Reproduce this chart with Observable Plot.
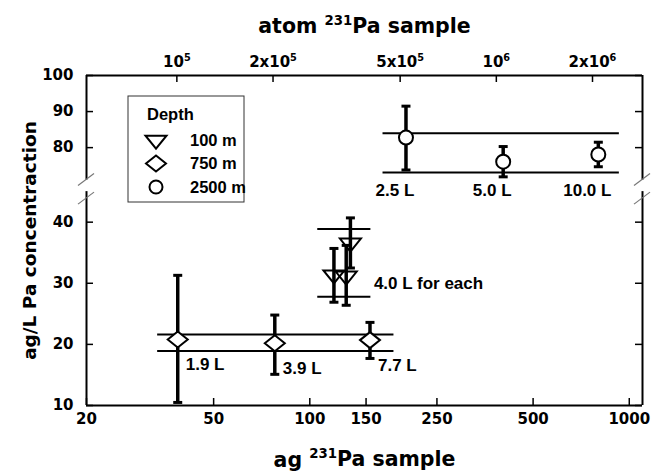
<!DOCTYPE html>
<html>
<head>
<meta charset="utf-8">
<script src="https://cdn.jsdelivr.net/npm/d3@7"></script>
<script src="https://cdn.jsdelivr.net/npm/@observablehq/plot@0.6"></script>
<style>
  body { margin: 0; background: #fff; }
  #chart svg { display: block; }
</style>
</head>
<body>
<div id="chart"></div>
<script>
// ---------------- data ----------------
const depths = ["100 m", "750 m", "2500 m"];
const legendTitle = "Depth";

// 100 m (triangles)
const agSample100 = [134, 119, 130];
const conc100     = [36.6, 31.4, 31.2];
const errLo100    = [32.5, 26.9, 26.4];
const errHi100    = [40.7, 35.7, 36.2];
const label100    = "4.0 L for each";

// 750 m (diamonds)
const agSample750 = [38.6, 77.7, 154.3];
const conc750     = [20.8, 20.2, 20.7];
const errLo750    = [10.5, 15.1, 17.7];
const errHi750    = [31.3, 24.8, 23.6];
const labels750   = ["1.9 L", "3.9 L", "7.7 L"];

// 2500 m (circles)
const agSample2500 = [200, 403, 800];
const conc2500     = [82.8, 76.1, 78.1];
const errLo2500    = [73.8, 71.9, 74.7];
const errHi2500    = [91.5, 80.3, 81.5];
const labels2500   = ["2.5 L", "5.0 L", "10.0 L"];

// horizontal band lines per depth
const bandDepth = ["100 m", "100 m", "750 m", "750 m", "2500 m", "2500 m"];
const bandY     = [38.9, 27.8, 21.6, 18.9, 84.0, 73.1];
const bandX1    = [105.9, 105.9, 33.4, 33.4, 169.5, 169.5];
const bandX2    = [155.3, 155.3, 183.4, 183.4, 931, 931];

// axes
const xDomain = [20, 1100];
const xTicks = [20, 50, 100, 150, 250, 500, 1000];
const atomTicks = [1e5, 2e5, 5e5, 1e6, 2e6];
const atomTickLabels = ["10^5", "2x10^5", "5x10^5", "10^6", "2x10^6"];
const yTicks = [10, 20, 30, 40, 80, 90, 100];
const lowerDomain = [10, 45];
const upperDomain = [71, 100];
const xTitle = "ag ^231Pa sample";
const xTopTitle = "atom ^231Pa sample";
const yTitle = "ag/L Pa concentraction";

// ---------------- helpers ----------------
const ATOMS_PER_AG = 6.02214e23 / 231 * 1e-18;
// broken y axis: two linear pieces with a gap
const lowerSpan = 213.5, gapSpan = 11.5, upperSpan = 104.4;
function brk(v) {
  return v <= lowerDomain[1]
    ? (v - lowerDomain[0]) / (lowerDomain[1] - lowerDomain[0]) * lowerSpan
    : lowerSpan + gapSpan + (v - upperDomain[0]) / (upperDomain[1] - upperDomain[0]) * upperSpan;
}
const yTotal = lowerSpan + gapSpan + upperSpan;

const triDown = { draw(ctx, size) { const r = Math.sqrt(size / Math.PI); const w = 1.05 * r, h = 1.3 * r;
  ctx.moveTo(-w, -h / 3); ctx.lineTo(w, -h / 3); ctx.lineTo(0, 2 * h / 3); ctx.closePath(); } };
const diamond = { draw(ctx, size) { const r = Math.sqrt(size / Math.PI);
  ctx.moveTo(0, -0.8 * r); ctx.lineTo(r, 0); ctx.lineTo(0, 0.8 * r); ctx.lineTo(-r, 0); ctx.closePath(); } };
const cap = { draw(ctx, size) { const r = Math.sqrt(size / Math.PI); ctx.moveTo(-r, 0); ctx.lineTo(r, 0); } };
const symbolOf = { "100 m": triDown, "750 m": diamond, "2500 m": d3.symbolCircle };
const rOf = { "100 m": 10, "750 m": 10, "2500 m": 7 };

const points = [
  ...agSample100.map((x, i) => ({ depth: "100 m", x, y: conc100[i], lo: errLo100[i], hi: errHi100[i] })),
  ...agSample750.map((x, i) => ({ depth: "750 m", x, y: conc750[i], lo: errLo750[i], hi: errHi750[i], label: labels750[i] })),
  ...agSample2500.map((x, i) => ({ depth: "2500 m", x, y: conc2500[i], lo: errLo2500[i], hi: errHi2500[i], label: labels2500[i] }))
];
const bands = bandY.map((y, i) => ({ depth: bandDepth[i], y, x1: bandX1[i], x2: bandX2[i] }));
const band100 = bands.filter(b => b.depth === "100 m");
const band2500Low = bands.filter(b => b.depth === "2500 m").sort((a, b) => a.y - b.y)[0];

const W = 651, H = 475, mL = 86, mR = 9, mT = 75, mB = 70;
const plotW = W - mL - mR, plotH = H - mT - mB;
const tickLen = 7;
const TICK_FONT = "DejaVu Sans, sans-serif";
const ANNO_FONT = "Liberation Sans, Arial, sans-serif";
const ANNO_SIZE = 17;

const chart = Plot.plot({
  width: W, height: H,
  marginLeft: mL, marginRight: mR, marginTop: mT, marginBottom: mB,
  x: { type: "log", domain: xDomain, axis: null },
  y: { type: "linear", domain: [0, yTotal], axis: null },
  style: { background: "white", color: "black", fontFamily: TICK_FONT, fontWeight: "bold", overflow: "visible" },
  marks: [
    // frame (with break on left/right)
    Plot.ruleY([brk(lowerDomain[0]), brk(upperDomain[1])], { y: d => d, stroke: "black", strokeWidth: 2 }),
    Plot.ruleX(xDomain, { x: d => d, y1: brk(lowerDomain[0]), y2: brk(lowerDomain[1]), stroke: "black", strokeWidth: 2 }),
    Plot.ruleX(xDomain, { x: d => d, y1: brk(upperDomain[0]), y2: brk(upperDomain[1]), stroke: "black", strokeWidth: 2 }),
    // inward ticks
    Plot.ruleX(xTicks, { x: d => d, insetTop: plotH - tickLen, stroke: "black", strokeWidth: 1.5 }),
    Plot.ruleX(atomTicks, { x: d => d / ATOMS_PER_AG, insetBottom: plotH - tickLen, stroke: "black", strokeWidth: 1.5 }),
    Plot.ruleY(yTicks, { y: d => brk(d), insetRight: plotW - tickLen, stroke: "black", strokeWidth: 1.5 }),
    Plot.ruleY(yTicks, { y: d => brk(d), insetLeft: plotW - tickLen, stroke: "black", strokeWidth: 1.5 }),
    // tick labels
    Plot.text(xTicks, { x: d => d, text: d => String(d), frameAnchor: "bottom", dy: 18, fontSize: 15, fontFamily: TICK_FONT, fontWeight: "bold" }),
    Plot.text(atomTicks, { x: d => d / ATOMS_PER_AG, text: (d, i) => atomTickLabels[i], frameAnchor: "top", dy: -19, fontSize: 15, fontFamily: TICK_FONT, fontWeight: "bold" }),
    Plot.text(yTicks, { y: d => brk(d), text: d => String(d), frameAnchor: "left", dx: -13, textAnchor: "end", fontSize: 15, fontFamily: TICK_FONT, fontWeight: "bold" }),
    // axis titles
    Plot.text([xTopTitle], { text: d => d, frameAnchor: "top", dy: -57, textAnchor: "middle", fontSize: 20.5, fontFamily: TICK_FONT, fontWeight: "bold" }),
    Plot.text([xTitle], { text: d => d, frameAnchor: "bottom", dy: 61, textAnchor: "middle", fontSize: 20.5, fontFamily: TICK_FONT, fontWeight: "bold" }),
    Plot.text([yTitle], { text: d => d, frameAnchor: "left", dx: -56, rotate: -90, textAnchor: "middle", fontSize: 18.5, fontFamily: TICK_FONT, fontWeight: "bold" }),
    // band lines
    Plot.ruleY(bands, { y: d => brk(d.y), x1: "x1", x2: "x2", stroke: "black", strokeWidth: 2 }),
    // error bars
    Plot.ruleX(points, { x: "x", y1: d => brk(d.lo), y2: d => brk(d.hi), stroke: "black", strokeWidth: 3.5 }),
    Plot.dot(points, { x: "x", y: d => brk(d.lo), symbol: cap, r: 4.5, stroke: "black", strokeWidth: 3, fill: "none" }),
    Plot.dot(points, { x: "x", y: d => brk(d.hi), symbol: cap, r: 4.5, stroke: "black", strokeWidth: 3, fill: "none" }),
    // symbols
    Plot.dot(points.filter(d => d.depth === "100 m"), { x: "x", y: d => brk(d.y), symbol: symbolOf["100 m"], r: rOf["100 m"], stroke: "black", strokeWidth: 2, fill: "none" }),
    Plot.dot(points.filter(d => d.depth === "750 m"), { x: "x", y: d => brk(d.y), symbol: symbolOf["750 m"], r: rOf["750 m"], stroke: "black", strokeWidth: 2, fill: "white" }),
    Plot.dot(points.filter(d => d.depth === "2500 m"), { x: "x", y: d => brk(d.y), symbol: symbolOf["2500 m"], r: rOf["2500 m"], stroke: "black", strokeWidth: 2, fill: "white" }),
    // annotations
    Plot.text(points.filter(d => d.depth === "750 m"), { x: "x", y: d => brk(d.y), text: "label", dx: 8, dy: 25, textAnchor: "start", fontSize: ANNO_SIZE, fontFamily: ANNO_FONT, fontWeight: "bold" }),
    Plot.text(points.filter(d => d.depth === "2500 m"), { x: "x", y: () => brk(band2500Low.y), text: "label", dx: -11, dy: 18, textAnchor: "middle", fontSize: ANNO_SIZE, fontFamily: ANNO_FONT, fontWeight: "bold" }),
    Plot.text([label100], { x: () => band100[0].x2, y: () => brk(Math.min(...band100.map(b => b.y))), text: d => d, dx: 3, dy: -13, textAnchor: "start", fontSize: ANNO_SIZE, fontFamily: ANNO_FONT, fontWeight: "bold" })
  ]
});

document.getElementById("chart").appendChild(chart);
const svg = d3.select(chart);

// superscripts: "^digits"
svg.selectAll("text").each(function () {
  const t = this.textContent;
  if (!t.includes("^")) return;
  const parts = t.split(/\^(\d+)/);
  const sel = d3.select(this);
  sel.text(null);
  let raised = false;
  parts.forEach((p, i) => {
    if (!p) return;
    const ts = sel.append("tspan").text(p);
    if (i % 2 === 1) { ts.attr("font-size", "0.65em").attr("dy", "-0.62em"); raised = true; }
    else if (raised) { ts.attr("dy", "0.4em"); raised = false; }
  });
});

// axis break marks
const xs = d3.scaleLog(xDomain, [mL, W - mR]);
const ys = d3.scaleLinear([0, yTotal], [H - mB, mT]);
const gb = svg.append("g").attr("stroke", "#777").attr("stroke-width", 1.2);
for (const xv of xDomain) {
  const px = xs(xv);
  for (const cy of [ys(brk(upperDomain[0])), ys(brk(lowerDomain[1])) + 7]) {
    gb.append("line").attr("x1", px - 8).attr("y1", cy + 6).attr("x2", px + 8).attr("y2", cy - 6);
  }
}

// legend
const lg = svg.append("g").attr("font-family", ANNO_FONT).attr("font-weight", "bold")
  .attr("font-size", 16.5).attr("text-anchor", "start");
lg.append("rect").attr("x", 128).attr("y", 96).attr("width", 116).attr("height", 106)
  .attr("fill", "white").attr("stroke", "#333").attr("stroke-width", 1);
lg.append("text").attr("x", 147).attr("y", 120).text(legendTitle);
depths.forEach((d, i) => {
  const cy = 140 + i * 23.5;
  const r = d === "2500 m" ? 6.5 : 10;
  lg.append("path").attr("transform", `translate(156,${cy})`)
    .attr("d", d3.symbol(symbolOf[d], Math.PI * r * r)())
    .attr("fill", "white").attr("stroke", "black").attr("stroke-width", 2);
  lg.append("text").attr("x", 190).attr("y", cy).attr("dy", "0.35em").text(d);
});
</script>
</body>
</html>
